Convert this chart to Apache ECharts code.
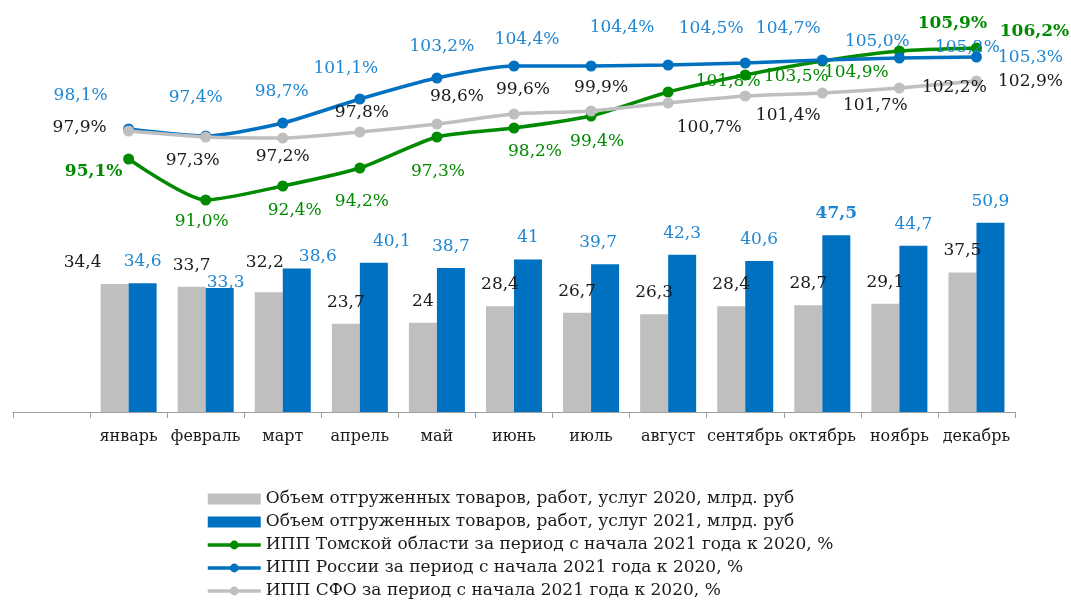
<!DOCTYPE html>
<html>
<head>
<meta charset="utf-8">
<title>ИПП и объем отгруженных товаров</title>
<script src="https://cdn.jsdelivr.net/npm/echarts@6/dist/echarts.min.js"></script>
<style>
  html, body { margin: 0; padding: 0; background: #fff; }
  #chart { width: 1071px; height: 601px; }
</style>
</head>
<body>
<div id="chart"></div>
<script>
// first category is an empty slot, as in the source chart
const months = ['', 'январь', 'февраль', 'март', 'апрель', 'май', 'июнь', 'июль', 'август', 'сентябрь', 'октябрь', 'ноябрь', 'декабрь']

const vol2020 = [34.4, 33.7, 32.2, 23.7, 24, 28.4, 26.7, 26.3, 28.4, 28.7, 29.1, 37.5]
const vol2021 = [34.6, 33.3, 38.6, 40.1, 38.7, 41, 39.7, 42.3, 40.6, 47.5, 44.7, 50.9]

const ippTomsk = [95.1, 91.0, 92.4, 94.2, 97.3, 98.2, 99.4, 101.8, 103.5, 104.9, 105.9, 106.2]
const ippRussia = [98.1, 97.4, 98.7, 101.1, 103.2, 104.4, 104.4, 104.5, 104.7, 105.0, 105.2, 105.3]
const ippSfo = [97.9, 97.3, 97.2, 97.8, 98.6, 99.6, 99.9, 100.7, 101.4, 101.7, 102.2, 102.9]

const names = [
  'Объем отгруженных товаров, работ, услуг 2020, млрд. руб',
  'Объем отгруженных товаров, работ, услуг 2021, млрд. руб',
  'ИПП Томской области за период с начала 2021 года к 2020, %',
  'ИПП России за период с начала 2021 года к 2020, %',
  'ИПП СФО за период с начала 2021 года к 2020, %'
]

// label placement (pixel offsets), kept apart from the values
const off2020 = [[-32, 0], [0, 0], [-4, -8], [0, 0], [0, 0], [0, 0], [0, 0], [0, 0], [0, 0], [0, 0], [0, 0], [0, 0]]
const off2021 = [[0, 0], [6, 16], [21, 10], [18, 0], [0, 0], [0, 0], [-7, 0], [0, 0], [0, 0], [0, 0], [0, 0], [0, 0]]
const offTomsk = [[-35, 13], [-4, 22], [12, 25], [2, 34], [1, 35], [21, 24], [6, 26], [60, -10], [51, 2], [34, 12], [53, -27], [58, -16]]
const offRussia = [[-48, -33], [-10, -38], [-1, -31], [-14, -30], [5, -31], [13, -26], [31, -38], [43, -36], [43, -34], [55, -18], [68, -10], [54, 1]]
const offSfo = [[-49, -3], [-13, 24], [0, 19], [2, -19], [20, -27], [9, -24], [10, -23], [41, 25], [43, 20], [53, 13], [55, 0], [54, 1]]

const FONT = '"DejaVu Serif", "Liberation Serif", serif'
const GREEN = '#008a00'
const BLUE = '#0070c0'
const GRAY = '#bfbfbf'

function comma(v) {
  return String(v).replace('.', ',')
}

function barSeries(name, values, offsets, color, labelColor, bold) {
  return {
    name: name,
    type: 'bar',
    barWidth: 28,
    barGap: '0%',
    itemStyle: { color: color },
    label: {
      show: true,
      position: 'top',
      distance: 13,
      color: labelColor,
      fontFamily: FONT,
      fontSize: 17,
      formatter: p => comma(p.value)
    },
    data: ['-'].concat(values.map((v, i) => ({
      value: v,
      label: { offset: offsets[i], fontWeight: bold.indexOf(i) >= 0 ? 'bold' : 'normal' }
    })))
  }
}

function lineSeries(name, values, offsets, color, labelColor, bold, z) {
  return {
    name: name,
    type: 'line',
    yAxisIndex: 1,
    z: z,
    smooth: 0.22,
    symbol: 'circle',
    symbolSize: 11,
    lineStyle: { width: 3.5, color: color },
    itemStyle: { color: color },
    label: {
      show: true,
      position: 'inside',
      color: labelColor,
      textBorderWidth: 0,
      fontFamily: FONT,
      fontSize: 17,
      formatter: p => p.value.toFixed(1).replace('.', ',') + '%'
    },
    data: ['-'].concat(values.map((v, i) => ({
      value: v,
      label: { offset: offsets[i], fontWeight: bold.indexOf(i) >= 0 ? 'bold' : 'normal' }
    })))
  }
}

const chart = echarts.init(document.getElementById('chart'), null, { renderer: 'canvas' })

chart.setOption({
  animation: false,
  backgroundColor: '#fff',
  textStyle: { fontFamily: FONT },
  grid: {
    left: 13,
    right: 56,
    top: 40,
    bottom: 189,
    containLabel: false,
    outerBoundsMode: 'none'
  },
  legend: {
    orient: 'vertical',
    left: 206,
    top: 490,
    padding: 0,
    itemGap: 5,
    itemWidth: 53,
    itemHeight: 11,
    textStyle: { fontFamily: FONT, fontSize: 17, color: '#1a1a1a', lineHeight: 18 },
    data: [
      { name: names[0], icon: 'rect' },
      { name: names[1], icon: 'rect' },
      { name: names[2], lineStyle: { width: 3.5 } },
      { name: names[3], lineStyle: { width: 3.5 } },
      { name: names[4], lineStyle: { width: 3.5 } }
    ]
  },
  xAxis: {
    type: 'category',
    data: months,
    boundaryGap: true,
    axisLine: { lineStyle: { color: '#a0a0a0', width: 1 } },
    axisTick: { show: true, interval: 0, length: 6, lineStyle: { color: '#a0a0a0' } },
    axisLabel: { interval: 0, margin: 17, color: '#1a1a1a', fontFamily: FONT, fontSize: 16 },
    splitLine: { show: false }
  },
  yAxis: [
    { type: 'value', min: 0, max: 100, show: false, splitLine: { show: false } },
    { type: 'value', min: 69.8, max: 107, show: false, splitLine: { show: false } }
  ],
  series: [
    barSeries(names[0], vol2020, off2020, GRAY, '#1a1a1a', []),
    barSeries(names[1], vol2021, off2021, BLUE, '#1f86d2', [9]),
    lineSeries(names[2], ippTomsk, offTomsk, GREEN, GREEN, [0, 10, 11], 3),
    lineSeries(names[3], ippRussia, offRussia, BLUE, '#1f86d2', [], 4),
    lineSeries(names[4], ippSfo, offSfo, GRAY, '#1a1a1a', [], 5)
  ]
})
</script>
</body>
</html>
